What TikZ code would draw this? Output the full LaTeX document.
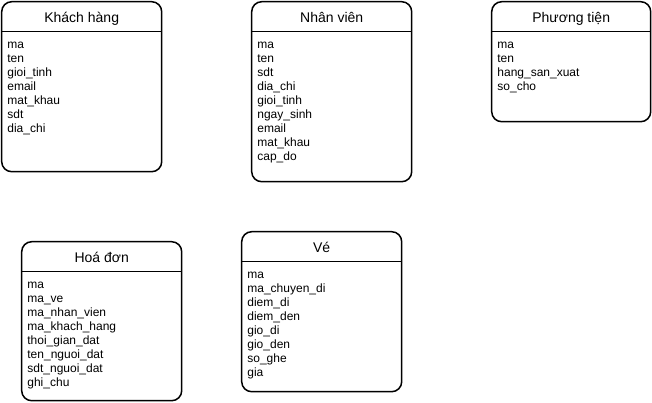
\documentclass[tikz,border=0pt]{standalone}
\usepackage{fontspec}
\setmainfont{Liberation Sans}
\usetikzlibrary{positioning}

\tikzset{
	entity/.style={rectangle, draw, rounded corners=10pt, line width=1.5pt, minimum width=160pt, inner sep=0pt, outer sep=0pt, anchor=north west},
	title/.style={anchor=base, inner sep=0pt, font=\fontsize{14}{16}\selectfont},
	attrs/.style={anchor=north west, align=left, inner sep=0pt, font=\fontsize{12}{14}\selectfont, execute at begin node=\strut},
	sep/.style={line width=1.5pt}
}

\begin{document}
\begin{tikzpicture}[x=1pt, y=1pt]
		\useasboundingbox (0,0) rectangle (652,-402);
		
		\node[entity, minimum height=170pt] (KH) at (1.7,-1.7) {};
		\node[entity, minimum height=180pt] (NV) at ([xshift=90pt]KH.north east) {};
		\node[entity, minimum height=120pt, minimum width=159pt] (PT) at ([xshift=80pt]NV.north east) {};
		\node[entity, minimum height=159pt] (HD) at ([xshift=20pt, yshift=-70pt]KH.south west) {};
		\node[entity, minimum height=160pt] (VE) at ([xshift=60pt, yshift=10pt]HD.north east) {};
		
		\node[title] (KHt) at ([yshift=-21pt]KH.north) {Khách hàng};
		\node[title] (NVt) at ([yshift=-21pt]NV.north) {Nhân viên};
		\node[title] (PTt) at ([yshift=-21pt]PT.north) {Phương tiện};
		\node[title] (HDt) at ([yshift=-21pt]HD.north) {Hoá đơn};
		\node[title] (VEt) at ([yshift=-21pt]VE.north) {Vé};
		
		\draw[sep] ([yshift=-30pt]KH.north west) -- ([yshift=-30pt]KH.north east);
		\draw[sep] ([yshift=-30pt]NV.north west) -- ([yshift=-30pt]NV.north east);
		\draw[sep] ([yshift=-30pt]PT.north west) -- ([yshift=-30pt]PT.north east);
		\draw[sep] ([yshift=-30pt]HD.north west) -- ([yshift=-30pt]HD.north east);
		\draw[sep] ([yshift=-30pt]VE.north west) -- ([yshift=-30pt]VE.north east);
		
		\node[attrs] (KHa) at ([xshift=5.5pt, yshift=-40.3pt]KH.north west) {ma\\ten\\gioi\_tinh\\email\\mat\_khau\\sdt\\dia\_chi};
		\node[attrs] (NVa) at ([xshift=5.5pt, yshift=-40.3pt]NV.north west) {ma\\ten\\sdt\\dia\_chi\\gioi\_tinh\\ngay\_sinh\\email\\mat\_khau\\cap\_do};
		\node[attrs] (PTa) at ([xshift=5.5pt, yshift=-40.3pt]PT.north west) {ma\\ten\\hang\_san\_xuat\\so\_cho};
		\node[attrs] (HDa) at ([xshift=5.5pt, yshift=-40.3pt]HD.north west) {ma\\ma\_ve\\ma\_nhan\_vien\\ma\_khach\_hang\\thoi\_gian\_dat\\ten\_nguoi\_dat\\sdt\_nguoi\_dat\\ghi\_chu};
		\node[attrs] (VEa) at ([xshift=5.5pt, yshift=-40.3pt]VE.north west) {ma\\ma\_chuyen\_di\\diem\_di\\diem\_den\\gio\_di\\gio\_den\\so\_ghe\\gia};
		
	\end{tikzpicture}
\end{document}
